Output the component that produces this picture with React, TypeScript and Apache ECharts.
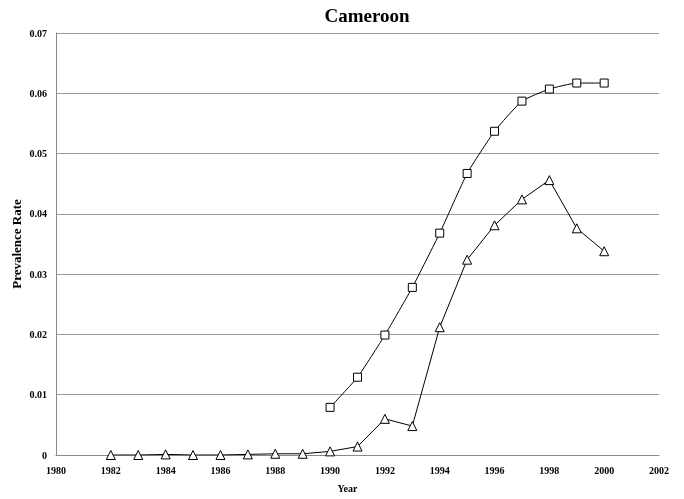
import { useEffect, useRef } from 'react'
import * as echarts from 'echarts'

const triangleYears = [1982, 1983, 1984, 1985, 1986, 1987, 1988, 1989, 1990, 1991, 1992, 1993, 1994, 1995, 1996, 1997, 1998, 1999, 2000]
const triangleValues = [0, 0, 0.0001, 0, 0, 0.0001, 0.0002, 0.0002, 0.0006, 0.0014, 0.006, 0.0048, 0.0212, 0.0324, 0.0381, 0.0424, 0.0456, 0.0376, 0.0338]

const squareYears = [1990, 1991, 1992, 1993, 1994, 1995, 1996, 1997, 1998, 1999, 2000]
const squareValues = [0.0079, 0.0129, 0.0199, 0.0278, 0.0368, 0.0467, 0.0537, 0.0587, 0.0607, 0.0617, 0.0617]

const font = '"Liberation Serif", "Times New Roman", serif'

export default function App() {
  const chartRef = useRef<HTMLDivElement>(null)

  useEffect(() => {
    if (!chartRef.current) return
    const chart = echarts.init(chartRef.current, undefined, { renderer: 'svg' })

    const option = {
      animation: false,
      textStyle: { fontFamily: font },
      title: {
        text: 'Cameroon',
        left: 362,
        top: 1,
        textAlign: 'center',
        textStyle: { fontFamily: font, fontSize: 19, fontWeight: 'bold', color: '#000' }
      },
      grid: { left: 56, right: 25, top: 33, bottom: 44, outerBoundsMode: 'none', containLabel: false },
      xAxis: {
        type: 'value',
        min: 1980,
        max: 2002,
        interval: 2,
        name: 'Year',
        nameLocation: 'middle',
        nameGap: 28,
        nameMoveOverlap: false,
        nameTextStyle: { fontFamily: font, fontSize: 10, fontWeight: 'bold', color: '#000', padding: [0, 20, 0, 0] },
        axisLine: { lineStyle: { color: '#888' } },
        axisTick: { show: false },
        splitLine: { show: false },
        axisLabel: { fontFamily: font, fontSize: 10, fontWeight: 'bold', color: '#000', margin: 10, formatter: (v: number) => String(v) }
      },
      yAxis: {
        type: 'value',
        min: 0,
        max: 0.07,
        interval: 0.01,
        name: 'Prevalence Rate',
        nameLocation: 'middle',
        nameGap: 33,
        nameMoveOverlap: false,
        nameRotate: 90,
        nameTextStyle: { fontFamily: font, fontSize: 13, fontWeight: 'bold', color: '#000' },
        axisLine: { show: true, lineStyle: { color: '#888' } },
        axisTick: { show: false },
        splitLine: { lineStyle: { color: '#999' } },
        axisLabel: { fontFamily: font, fontSize: 10, fontWeight: 'bold', color: '#000', margin: 9 }
      },
      series: [
        {
          type: 'line',
          data: squareYears.map((y, i) => [y, squareValues[i]]),
          smooth: 0.15,
          symbol: 'rect',
          symbolSize: 8,
          lineStyle: { color: '#000', width: 1 },
          itemStyle: { color: '#fff', borderColor: '#000', borderWidth: 1 }
        },
        {
          type: 'line',
          data: triangleYears.map((y, i) => [y, triangleValues[i]]),
          symbol: 'triangle',
          symbolSize: 9,
          lineStyle: { color: '#000', width: 1 },
          itemStyle: { color: '#fff', borderColor: '#000', borderWidth: 1 }
        }
      ]
    }

    chart.setOption(option)

    return () => {
      chart.dispose()
    }
  }, [])

  return <div ref={chartRef} style={{ position: 'fixed', left: 0, top: 0, width: '684px', height: '499px' }} />
}
